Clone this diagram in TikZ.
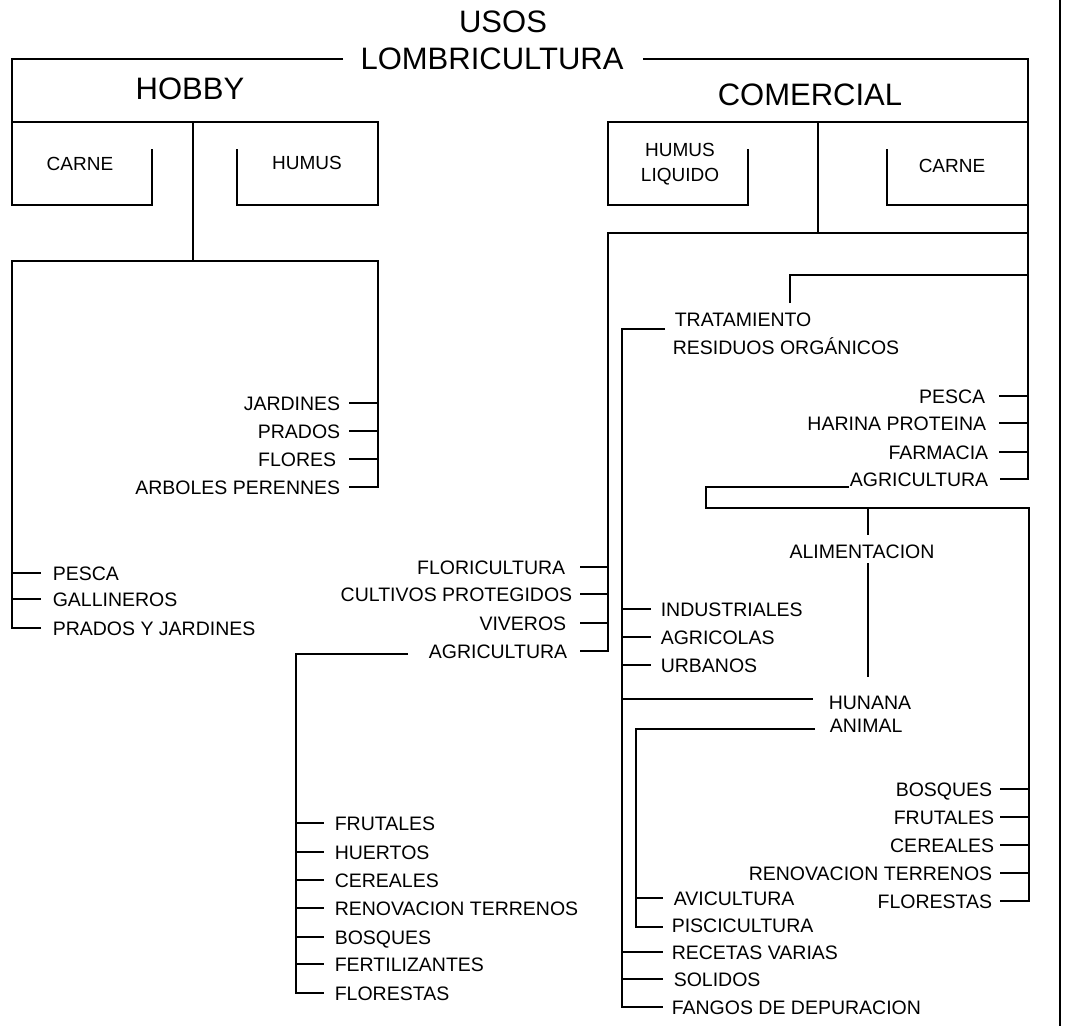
\documentclass[tikz,border=0pt]{standalone}
\usepackage{fontspec}
\setmainfont{Liberation Sans}
\begin{document}
\begin{tikzpicture}[x=1pt,y=-1pt,line width=1.6pt,line join=miter,
  big/.style={font=\fontsize{31}{37}\selectfont,inner sep=0pt,text height=22pt,text depth=0pt},
  boxt/.style={font=\fontsize{19}{23}\selectfont,inner sep=0pt,text height=13.6pt,text depth=0pt},
  item/.style={font=\fontsize{19.5}{23}\selectfont,inner sep=0pt,text height=14pt,text depth=0pt},
  li/.style={item,anchor=west},
  ri/.style={item,anchor=east},
  tk/.style={line width=2.4pt}]
\useasboundingbox (0,0) rectangle (1068,1026);
% titles
\node[big] (usos) at (503,21) {USOS};
\node[big] (lomb) at (492,58) {LOMBRICULTURA};
\node[big] (hobby) at (190,88) {HOBBY};
\node[big] (comercial) at (810,94) {COMERCIAL};
\node[boxt] (carneH) at (80,164) {CARNE};
\node[boxt] (humusH) at (307,163) {HUMUS};
\node[boxt] (humusL1) at (680,150) {HUMUS};
\node[boxt] (humusL2) at (680,175) {LIQUIDO};
\node[boxt] (carneC) at (952,166) {CARNE};
% hobby lists
\node[li] (hpesca) at (52,573) {PESCA};
\node[li] (hgall) at (52,599) {GALLINEROS};
\node[li] (hpyj) at (52,628) {PRADOS Y JARDINES};
\node[ri] (hjard) at (341,403) {JARDINES};
\node[ri] (hprad) at (341,431) {PRADOS};
\node[ri] (hflor) at (337,459) {FLORES};
\node[ri] (harb) at (341,487) {ARBOLES PERENNES};
% humus liquido list
\node[ri] (flori) at (566,567) {FLORICULTURA};
\node[ri] (cultp) at (573,594) {CULTIVOS PROTEGIDOS};
\node[ri] (viver) at (567,623) {VIVEROS};
\node[ri] (agriL) at (568,651) {AGRICULTURA};
\node[li] (afrut) at (334,823) {FRUTALES};
\node[li] (ahuer) at (334,852) {HUERTOS};
\node[li] (acere) at (334,880) {CEREALES};
\node[li] (areno) at (334,908) {RENOVACION TERRENOS};
\node[li] (abosq) at (334,937) {BOSQUES};
\node[li] (afert) at (334,964) {FERTILIZANTES};
\node[li] (aflor) at (334,993) {FLORESTAS};
% tratamiento
\node[li] (trat1) at (674,319) {TRATAMIENTO};
\node[li] (trat2) at (672,347) {RESIDUOS ORGÁNICOS};
\node[li] (indu) at (660,609) {INDUSTRIALES};
\node[li] (agrc) at (660,637) {AGRICOLAS};
\node[li] (urba) at (660,665) {URBANOS};
\node[li] (recet) at (671,952) {RECETAS VARIAS};
\node[li] (solid) at (673,979) {SOLIDOS};
\node[li] (fangos) at (671,1007) {FANGOS DE DEPURACION};
% carne comercial list
\node[ri] (cpesca) at (986,396) {PESCA};
\node[ri] (charin) at (987,423) {HARINA PROTEINA};
\node[ri] (cfarm) at (989,452) {FARMACIA};
\node[ri] (cagri) at (989,479) {AGRICULTURA};
\node[item] (alim) at (862,551) {ALIMENTACION};
\node[li] (hunana) at (828,702) {HUNANA};
\node[li] (animal) at (829,725) {ANIMAL};
\node[li] (avic) at (673,898) {AVICULTURA};
\node[li] (pisc) at (671,925) {PISCICULTURA};
\node[ri] (cbosq) at (993,789) {BOSQUES};
\node[ri] (cfrut) at (995,817) {FRUTALES};
\node[ri] (ccere) at (995,845) {CEREALES};
\node[ri] (creno) at (993,873) {RENOVACION TERRENOS};
\node[ri] (cflor) at (993,901) {FLORESTAS};

% ---- HOBBY lines
\draw (343,59) -- (12,59) -- (12,205) -- (152,205) -- (152,149);
\draw (12,122) -- (378,122) -- (378,205) -- (237,205) -- (237,149);
\draw (193,122) -- (193,261);
\draw (41,628) -- (12,628) -- (12,261) -- (378,261) -- (378,487) -- (349,487);
\draw (12,573) -- (41,573);
\draw[tk] (12,599) -- (41,599);
\draw (349,403) -- (378,403);
\draw[tk] (349,431) -- (378,431);
\draw[tk] (349,459) -- (378,459);
\draw[tk] (349,487) -- (378,487);

% ---- COMERCIAL lines
\draw (643,59) -- (1028,59) -- (1028,479) -- (1000,479);
\draw (748,149) -- (748,205) -- (608,205) -- (608,122) -- (1028,122);
\draw (887,149) -- (887,205) -- (1028,205);
\draw (818,122) -- (818,233);
\draw (580,651) -- (608,651) -- (608,233) -- (1028,233);
\draw (790,303) -- (790,275) -- (1028,275);
\draw (580,567) -- (608,567);
\draw[tk] (580,594) -- (608,594);
\draw[tk] (580,623) -- (608,623);
\draw[tk] (580,651) -- (608,651);
% agricultura (left)
\draw (408,654) -- (296,654) -- (296,993) -- (324,993);
\foreach \yy in {823,852,880,908,937,964} \draw[tk] (296,\yy) -- (324,\yy);
% tratamiento
\draw (665,329) -- (622,329) -- (622,1007) -- (663,1007);
\foreach \yy in {609,637,665} \draw[tk] (622,\yy) -- (651,\yy);
\draw (622,699) -- (813,699);
\draw (815,729) -- (636,729) -- (636,927) -- (663,927);
\draw[tk] (636,898) -- (663,898);
\draw[tk] (636,898) -- (636,927) -- (663,927);
\draw[tk] (622,952) -- (663,952);
\draw[tk] (622,979) -- (663,979);
% carne comercial
\draw (999,396) -- (1028,396);
\draw[tk] (999,423) -- (1028,423);
\draw[tk] (999,452) -- (1028,452);
\draw[tk] (1000,479) -- (1028,479);
\draw (849,487) -- (706,487) -- (706,508) -- (1029,508) -- (1029,901) -- (1000,901);
\foreach \yy in {789,817,845,873,901} \draw[tk] (1000,\yy) -- (1029,\yy);
\draw (868,508) -- (868,535);
\draw (868,563) -- (868,677);
% border
\draw (1060,0) -- (1060,1026);
\end{tikzpicture}
\end{document}
